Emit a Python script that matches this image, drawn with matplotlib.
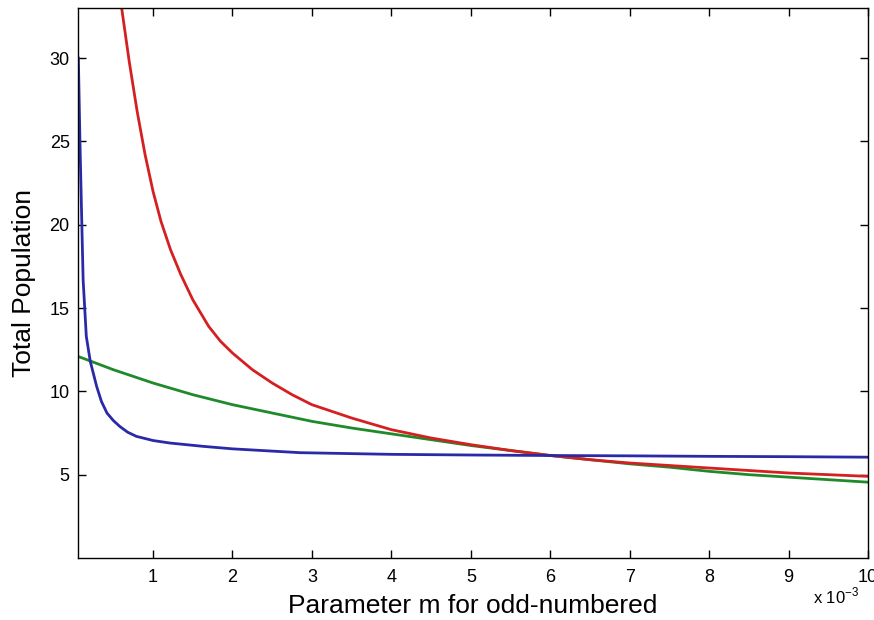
import numpy as np
import matplotlib
matplotlib.use('Agg')
import matplotlib.pyplot as plt

# parameter m (in units of 1e-3)
x_blue = [0.06, 0.08, 0.1, 0.12, 0.16, 0.21, 0.29, 0.35, 0.42, 0.5, 0.58, 0.68,
          0.79, 1.0, 1.21, 1.63, 2.0, 2.85, 4.0, 5.0, 6.0, 7.0, 8.0, 9.0, 10.0]
y_blue = [30.0, 25.0, 20.8, 16.7, 13.3, 11.8, 10.3, 9.4, 8.7, 8.25, 7.9, 7.55,
          7.3, 7.05, 6.9, 6.7, 6.55, 6.32, 6.22, 6.18, 6.15, 6.13, 6.1, 6.08, 6.05]

x_red = [0.55, 0.605, 0.7, 0.8, 0.9, 1.0, 1.1, 1.22, 1.35, 1.5, 1.7, 1.85, 2.0,
         2.25, 2.5, 2.75, 3.0, 3.5, 4.0, 4.5, 5.0, 5.5, 6.0, 6.5, 7.0, 7.5, 8.0,
         8.5, 9.0, 9.5, 10.0]
y_red = [35.0, 33.0, 29.8, 26.8, 24.2, 22.0, 20.2, 18.5, 17.0, 15.5, 13.9, 13.0,
         12.3, 11.3, 10.5, 9.8, 9.2, 8.4, 7.7, 7.2, 6.8, 6.45, 6.15, 5.9, 5.7,
         5.55, 5.4, 5.25, 5.1, 5.0, 4.9]

x_green = [0.055, 0.5, 1.0, 1.5, 2.0, 2.5, 3.0, 3.5, 4.0, 4.5, 5.0, 5.5, 6.0, 6.5,
           7.0, 7.5, 8.0, 8.5, 9.0, 9.5, 10.0]
y_green = [12.1, 11.3, 10.5, 9.8, 9.2, 8.7, 8.2, 7.8, 7.45, 7.1, 6.75, 6.45, 6.15,
           5.9, 5.65, 5.45, 5.2, 5.0, 4.85, 4.7, 4.55]

plt.rcParams['font.family'] = ['Liberation Sans', 'DejaVu Sans']

fig = plt.figure(figsize=(8.74, 6.2), dpi=100)
ax = fig.add_axes([0.0892, 0.1, 0.904, 0.887])

scale = 1e-3
ax.plot(np.array(x_green) * scale, y_green, color='#1f8a2a', lw=2.0)
ax.plot(np.array(x_red) * scale, y_red, color='#d42020', lw=2.0)
ax.plot(np.array(x_blue) * scale, y_blue, color='#2a2aa8', lw=2.0)

ax.set_xlim(0.055e-3, 0.01)
ax.set_ylim(0, 33)
ax.set_xticks(np.arange(1, 11) * scale)
ax.set_xticklabels([str(i) for i in range(1, 11)])
ax.set_yticks([5, 10, 15, 20, 25, 30])

ax.tick_params(direction='in', top=True, right=True, length=6, width=1,
               labelsize=13, colors='black')
ax.tick_params(axis='x', pad=8)
ax.tick_params(axis='y', pad=6)
for s in ax.spines.values():
    s.set_linewidth(1)

ax.set_xlabel('Parameter m for odd-numbered', fontsize=19, labelpad=6)
ax.set_ylabel('Total Population', fontsize=19, labelpad=10)

fig.text(0.93, 0.022, r'x 10$^{\mathregular{-3}}$', fontsize=12, ha='left', va='bottom')

fig.savefig('out.png', dpi=100)
